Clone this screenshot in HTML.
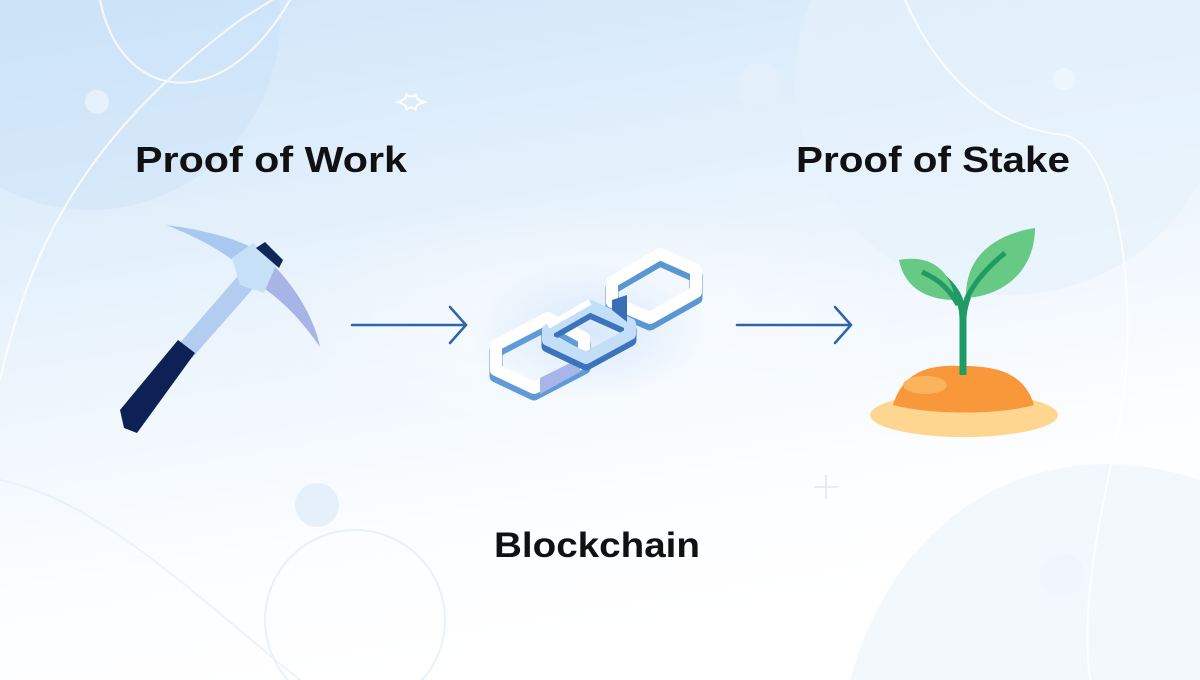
<!DOCTYPE html>
<html><head><meta charset="utf-8"><style>html,body{margin:0;padding:0;width:1200px;height:680px;overflow:hidden}</style></head>
<body>
<svg width="1200" height="680" viewBox="0 0 1200 680" xmlns="http://www.w3.org/2000/svg">
<defs>
<linearGradient id="bg" x1="0" y1="0" x2="0.3" y2="1">
<stop offset="0" stop-color="#cfe5f9"/><stop offset="0.55" stop-color="#eef6fd"/><stop offset="0.8" stop-color="#fbfdff"/><stop offset="1" stop-color="#ffffff"/>
</linearGradient>
<radialGradient id="glow" cx="0.5" cy="0.5" r="0.5"><stop offset="0" stop-color="#ffffff"/><stop offset="1" stop-color="#ffffff" stop-opacity="0"/></radialGradient>
<radialGradient id="cglow" cx="0.5" cy="0.5" r="0.5"><stop offset="0" stop-color="#cfe4fb" stop-opacity="0.8"/><stop offset="1" stop-color="#cfe4fb" stop-opacity="0"/></radialGradient>
</defs>
<rect width="1200" height="680" fill="url(#bg)"/>
<circle cx="90" cy="20" r="190" fill="#c7e0f7" opacity="0.35"/>
<circle cx="1010" cy="80" r="215" fill="#e6f1fb" opacity="0.6"/>
<path d="M850 680 C900 500 1050 430 1200 480 L1200 680Z" fill="#eef5fc" opacity="0.7"/>
<ellipse cx="600" cy="320" rx="330" ry="120" fill="url(#glow)" opacity="0.6"/>
<g fill="none" stroke="#ffffff" stroke-width="2" opacity="0.8">
<path d="M0 380 C30 250 80 140 240 20 L280 -5"/>
<path d="M100 0 C120 100 220 120 290 0"/>
<path d="M905 0 C940 80 1000 130 1065 135 C1120 150 1140 300 1120 420 C1100 520 1080 600 1090 680"/>
<circle cx="355" cy="620" r="90" stroke="#e4eef8"/>
<path d="M0 480 C100 500 200 600 300 680" stroke="#e8f0f8"/>
</g>
<circle cx="97" cy="102" r="12" fill="#e6f1fc"/>
<circle cx="760" cy="86" r="23" fill="#e4f0fb" opacity="0.8"/>
<circle cx="1064" cy="79" r="11" fill="#eef6fd"/>
<circle cx="317" cy="505" r="22" fill="#e6f0fa"/>
<circle cx="1062" cy="575" r="22" fill="#f0f6fc"/>
<path d="M398 102 q10 -3 8 -8 q5 5 10 0 q-2 5 8 8 q-10 3 -8 8 q-5 -5 -10 0 q2 -5 -8 -8z" fill="none" stroke="#fff" stroke-width="2"/>
<path d="M826 475 v24 M814 487 h24" stroke="#e4edf6" stroke-width="2"/>
<text x="271" y="172" text-anchor="middle" font-family="Liberation Sans, sans-serif" font-weight="bold" font-size="36" fill="#111" textLength="272" lengthAdjust="spacingAndGlyphs">Proof of Work</text>
<text x="933" y="172" text-anchor="middle" font-family="Liberation Sans, sans-serif" font-weight="bold" font-size="36" fill="#111" textLength="274" lengthAdjust="spacingAndGlyphs">Proof of Stake</text>
<text x="597" y="557" text-anchor="middle" font-family="Liberation Sans, sans-serif" font-weight="bold" font-size="35" fill="#111" textLength="206" lengthAdjust="spacingAndGlyphs">Blockchain</text>
<!-- pickaxe -->
<path d="M166 225 C220 232 255 245 275 262 L255 278 C230 255 200 238 166 225Z" fill="#a9c8ef"/>
<path d="M252 280 L270 262 C295 285 315 320 320 347 C300 318 280 298 252 280Z" fill="#a8b3e6"/>
<path d="M178 345 L250 262 L265 275 L192 358Z" fill="#b2cdf0"/>
<path d="M120 410 L178 340 L195 353 L137 433 L124 428Z" fill="#0d2157"/>
<path d="M232 258 L253 243 L277 263 L264 293 L240 285Z" fill="#c5e0f7"/>
<path d="M256 248 L265 242 L283 260 L279 268Z" fill="#0f2656"/>
<!-- chain -->
<ellipse cx="590" cy="330" rx="120" ry="70" fill="url(#cglow)"/>
<g stroke-linejoin="round" fill="none">
<!-- link 1 -->
<path d="M496 345 L548 318 L584 338 L584 362 L534 388 L496 370Z" stroke="#5f9bd6" stroke-width="13" transform="translate(0,6)"/>
<path d="M496 345 L548 318 L584 338 L584 362 L534 388 L496 370Z" stroke="#ffffff" stroke-width="12"/>
<path d="M540 378 L580 358 L580 372 L540 394Z" fill="#a8b5e8"/>
<!-- link 3 -->
<path d="M612 282 L660 254 L696 270 L696 292 L650 318 L612 302Z" stroke="#5a96d2" stroke-width="13" transform="translate(0,6)"/>
<path d="M612 282 L660 254 L696 270 L696 292 L650 318 L612 302Z" stroke="#ffffff" stroke-width="12"/>
<!-- link 2 middle -->
<path d="M548 330 L590 306 L630 324 L630 334 L586 358 L548 340Z" stroke="#3b73bd" stroke-width="13" transform="translate(0,6)"/>
<path d="M548 330 L590 306 L630 324 L630 334 L586 358 L548 340Z" stroke="#c3def7" stroke-width="12"/>
<path d="M548 326 L590 302" stroke="#ffffff" stroke-width="6"/>
</g>
<path d="M612 300 L627 295 L627 322 L612 310Z" fill="#3a6fb8"/>
<!-- arrows -->
<g stroke="#2f63ad" stroke-width="2.5" fill="none" stroke-linecap="round">
<path d="M352 325 H466 M450 307 L466 325 L450 343"/>
<path d="M737 325 H851 M835 307 L851 325 L835 343"/>
</g>
<!-- sprout -->
<ellipse cx="964" cy="415" rx="94" ry="22" fill="#fed690"/>
<path d="M893 405 C905 365 940 365 964 366 C1000 366 1025 375 1034 405 C1000 415 930 415 893 405Z" fill="#f9973b"/>
<ellipse cx="925" cy="385" rx="22" ry="9" fill="#fbb35e"/>
<path d="M963 375 V320 C963 300 955 285 935 272" stroke="#1f9b63" stroke-width="7" fill="none"/>
<path d="M963 322 C965 290 980 270 1005 253" stroke="#1f9b63" stroke-width="6" fill="none"/>
<path d="M899 260 C925 255 950 265 955 300 C930 300 905 290 899 260Z" fill="#66c984"/>
<path d="M966 298 C965 260 990 235 1035 228 C1035 265 1010 295 966 298Z" fill="#66c984"/>
<path d="M922 272 C940 280 950 290 958 305" stroke="#1f9b63" stroke-width="5" fill="none"/>
<path d="M966 300 C975 280 990 265 1005 253" stroke="#1f9b63" stroke-width="5" fill="none"/>
</svg>
</body></html>
